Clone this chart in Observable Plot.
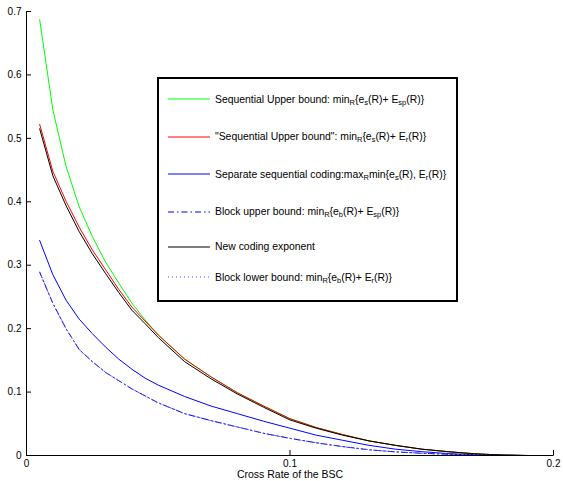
<!DOCTYPE html>
<html>
<head>
<meta charset="utf-8">
<script src="https://cdn.jsdelivr.net/npm/d3@7"></script>
<script src="https://cdn.jsdelivr.net/npm/@observablehq/plot@0.6"></script>
<style>
  body { margin: 0; background: #fff; font-family: "Liberation Sans", Arial, sans-serif; }
  #wrap { position: relative; width: 563px; height: 481px; }
  #legend { position: absolute; left: 157px; top: 77px; width: 297px; height: 221px;
            border: 2px solid #000; background: #fff; font-size: 10.4px; color: #000; }
  .row { position: absolute; left: 9px; height: 16px; display: flex; align-items: center; white-space: nowrap; }
  .row svg { margin-right: 5px; flex: none; }
  sub { font-size: 7.5px; vertical-align: -2px; line-height: 0; }
</style>
</head>
<body>
<div id="wrap"><div id="chart"></div><div id="legend"></div></div>
<script>
// Crossover probability of the BSC
const xs = [0.005, 0.01, 0.015, 0.02, 0.025, 0.03, 0.035, 0.04, 0.045, 0.05,
            0.06, 0.07, 0.08, 0.09, 0.1, 0.11, 0.12, 0.13, 0.14, 0.15,
            0.16, 0.17, 0.18, 0.19, 0.2];

// Sequential Upper bound: min_R{e_s(R)+E_sp(R)}
const seqUpperSp = [0.687, 0.545, 0.456, 0.392, 0.345, 0.305, 0.272, 0.240, 0.214, 0.190,
                    0.152, 0.124, 0.099, 0.078, 0.058, 0.044, 0.033, 0.023, 0.016, 0.010,
                    0.006, 0.0027, 0.0008, 0, 0];
// "Sequential Upper bound": min_R{e_s(R)+E_r(R)}
const seqUpperR = [0.522, 0.448, 0.401, 0.360, 0.324, 0.293, 0.262, 0.234, 0.212, 0.190,
                   0.152, 0.124, 0.099, 0.078, 0.058, 0.044, 0.033, 0.023, 0.016, 0.010,
                   0.006, 0.0027, 0.0008, 0, 0];
// Separate sequential coding
const separateSeq = [0.339, 0.285, 0.245, 0.215, 0.192, 0.171, 0.152, 0.136, 0.122, 0.111,
                     0.093, 0.078, 0.066, 0.054, 0.043, 0.032, 0.024, 0.016, 0.010, 0.006,
                     0.003, 0.0012, 0.0003, 0, 0];
// Block upper bound: min_R{e_b(R)+E_sp(R)}
const blockUpper = [0.289, 0.240, 0.200, 0.167, 0.148, 0.131, 0.118, 0.105, 0.094, 0.083,
                    0.066, 0.055, 0.045, 0.035, 0.027, 0.020, 0.014, 0.009, 0.0057, 0.0035,
                    0.002, 0.0008, 0.0002, 0, 0];
// New coding exponent
const newCoding = [0.515, 0.441, 0.394, 0.353, 0.318, 0.287, 0.257, 0.229, 0.208, 0.186,
                   0.148, 0.121, 0.097, 0.076, 0.056, 0.043, 0.032, 0.023, 0.016, 0.010,
                   0.006, 0.0027, 0.0008, 0, 0];
// Block lower bound: min_R{e_b(R)+E_r(R)}
const blockLower = [0.289, 0.240, 0.200, 0.167, 0.148, 0.131, 0.118, 0.105, 0.094, 0.083,
                    0.066, 0.055, 0.045, 0.035, 0.027, 0.020, 0.014, 0.009, 0.0057, 0.0035,
                    0.002, 0.0008, 0.0002, 0, 0];

const xTicks = [0, 0.1, 0.2];
const yTicks = [0, 0.1, 0.2, 0.3, 0.4, 0.5, 0.6, 0.7];
const xLabel = "Cross Rate of the BSC";

const legendLabels = [
  'Sequential Upper bound: min<sub>R</sub>{e<sub>s</sub>(R)+ E<sub>sp</sub>(R)}',
  '"Sequential Upper bound": min<sub>R</sub>{e<sub>s</sub>(R)+ E<sub>r</sub>(R)}',
  'Separate sequential coding:max<sub>R</sub>min{e<sub>s</sub>(R), E<sub>r</sub>(R)}',
  'Block upper bound: min<sub>R</sub>{e<sub>b</sub>(R)+ E<sub>sp</sub>(R)}',
  'New coding exponent',
  'Block lower bound: min<sub>R</sub>{e<sub>b</sub>(R)+ E<sub>r</sub>(R)}'
];

const series = [
  {values: seqUpperSp, stroke: "#00ff00", dash: null},
  {values: seqUpperR, stroke: "#ff0000", dash: null},
  {values: separateSeq, stroke: "#0000ff", dash: null},
  {values: blockUpper, stroke: "#0000ff", dash: "6,3,1.5,3"},
  {values: newCoding, stroke: "#000000", dash: null},
  {values: blockLower, stroke: "#5555ff", dash: "1,3"}
];
const drawOrder = [0, 1, 2, 3, 4, 5];

const W = 563, H = 481, mL = 26, mR = 10, mT = 11, mB = 26;
const frameW = W - mL - mR, frameH = H - mT - mB;

const fmt = d => d === 0 ? "0" : String(d);

const chart = Plot.plot({
  width: W, height: H,
  marginLeft: mL, marginRight: mR, marginTop: mT, marginBottom: mB,
  style: {fontFamily: '"Liberation Sans", Arial, sans-serif', fontSize: "10px", color: "#000", background: "#fff"},
  x: {domain: [0, 0.2]},
  y: {domain: [0, 0.7]},
  marks: [
    ...drawOrder.map(i => Plot.line(series[i].values, {
      x: (d, j) => xs[j], y: d => d,
      stroke: series[i].stroke, strokeWidth: 1,
      strokeDasharray: series[i].dash || undefined
    })),
    Plot.ruleX([0], {stroke: "#000"}),
    Plot.ruleY([0], {stroke: "#000"}),
    Plot.tickY(yTicks, {y: d => d, stroke: "#000", insetRight: frameW - 5}),
    Plot.tickX(xTicks, {x: d => d, stroke: "#000", insetTop: frameH - 5}),
    Plot.axisY({ticks: yTicks, tickSize: 0, tickPadding: 5, tickFormat: fmt, label: null}),
    Plot.axisX({ticks: xTicks, tickSize: 0, tickPadding: 4, tickFormat: fmt, label: null}),
    Plot.text([xLabel], {frameAnchor: "bottom", dy: 22, text: d => d, fontSize: 10.5})
  ]
});
document.getElementById("chart").appendChild(chart);

// Legend (HTML so subscripts stay real text)
const legend = document.getElementById("legend");
const rowCenters = [99.3, 136.7, 174.3, 211.7, 246.7, 277.3];
legendLabels.forEach((lab, i) => {
  const s = series[i];
  const row = document.createElement("div");
  row.className = "row";
  row.style.top = (rowCenters[i] - 79 - 8) + "px";
  row.innerHTML = `<svg width="42" height="4"><line x1="0" x2="42" y1="2" y2="2" stroke="${s.stroke}" stroke-width="1" ${s.dash ? `stroke-dasharray="${s.dash}"` : ""}/></svg><span>${lab}</span>`;
  legend.appendChild(row);
});
</script>
</body>
</html>
